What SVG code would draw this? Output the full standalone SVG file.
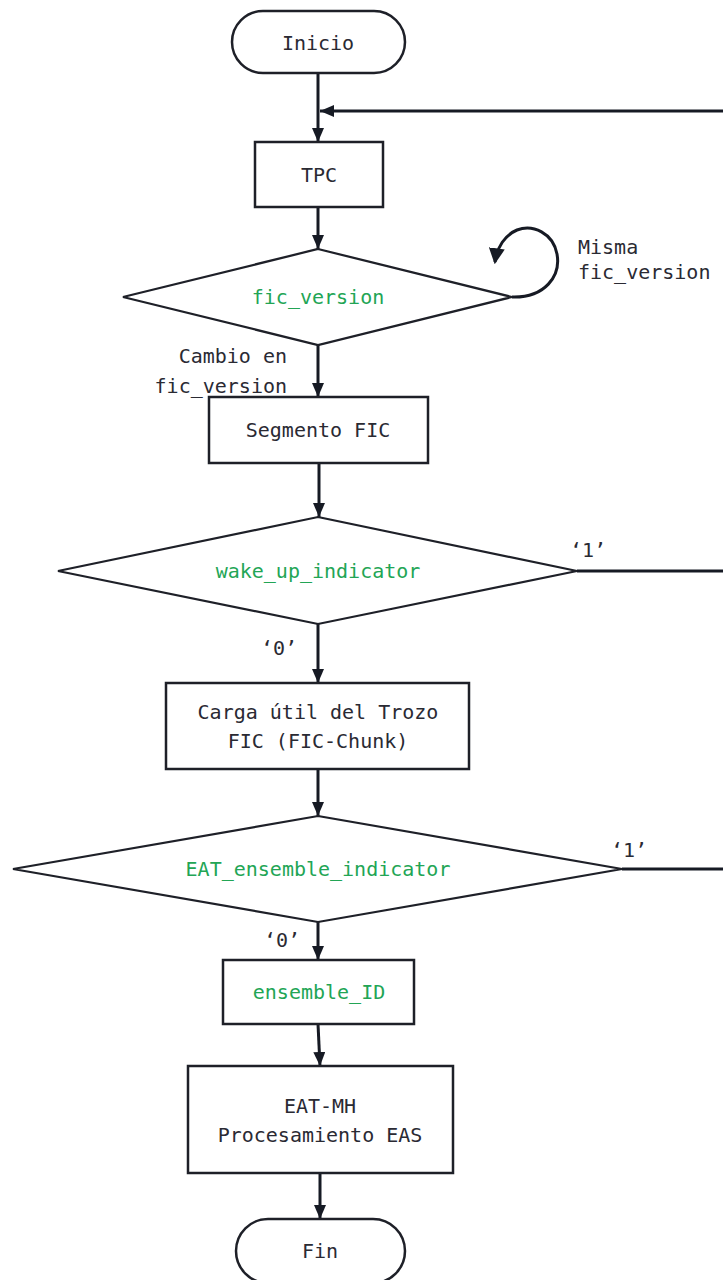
<svg xmlns="http://www.w3.org/2000/svg" width="723" height="1280" viewBox="0 0 723 1280">
<defs>
<marker id="ah" viewBox="0 0 14 12" refX="14" refY="6" markerWidth="14" markerHeight="12" markerUnits="userSpaceOnUse" orient="auto">
<path d="M0,0 L14,6 L0,12 Z" fill="#161a24"/>
</marker>
<marker id="ah2" viewBox="0 0 14 14" refX="12" refY="7" markerWidth="16" markerHeight="16" markerUnits="userSpaceOnUse" orient="auto">
<path d="M0,0 L14,7 L0,14 Z" fill="#161a24"/>
</marker>
</defs>
<style>
.shape{fill:#fff;stroke:#1e2028;stroke-width:2.5}
.dia{fill:#fff;stroke:#1e2028;stroke-width:2.2}
.t{font-family:"DejaVu Sans Mono","Liberation Mono",monospace;font-size:20px;fill:#2a2a33;text-anchor:middle}
.g{fill:#22a555}
.lbl{font-family:"DejaVu Sans Mono","Liberation Mono",monospace;font-size:20px;fill:#2a2a33}
.c{fill:none;stroke:#161a24;stroke-width:3}
.ca{fill:none;stroke:#161a24;stroke-width:3;marker-end:url(#ah)}
</style>
<rect width="723" height="1280" fill="#fff"/>
<g id="connectors">
<path class="ca" d="M318,73 L318,142"/>
<path class="ca" d="M723,111 L320,111"/>
<path class="ca" d="M318,207 L318,249"/>
<path d="M512,297 C545,298 561,276 557,254 C553,233 533,224 517,230 C505,235 497,247 495,262" fill="none" stroke="#161a24" stroke-width="3" marker-end="url(#ah2)"/>
<path class="ca" d="M318,345 L318,397"/>
<path class="ca" d="M319,463 L319,517"/>
<path class="c" d="M577,571 L723,571"/>
<path class="ca" d="M318,624 L318,683"/>
<path class="ca" d="M318,769 L318,816"/>
<path class="c" d="M622,869 L723,869"/>
<path class="ca" d="M318,922 L318,960"/>
<path class="ca" d="M318,1024 L320,1066"/>
<path class="ca" d="M320,1173 L320,1219"/>
</g>
<g id="inicio">
<rect class="shape" x="232" y="11" width="173" height="62" rx="31" ry="31"/>
<text class="t" x="318" y="50">Inicio</text>
</g>
<g id="tpc">
<rect class="shape" x="255" y="142" width="128" height="65"/>
<text class="t" x="319" y="182">TPC</text>
</g>
<g id="fic_version">
<polygon class="dia" points="318,249 512,297 318,345 123,297"/>
<text class="t g" x="318" y="304">fic_version</text>
</g>
<g id="labels">
<text class="lbl" x="578" y="254">Misma</text>
<text class="lbl" x="578" y="279">fic_version</text>
<text class="lbl" x="287" y="363" text-anchor="end">Cambio en</text>
<text class="lbl" x="287" y="393" text-anchor="end">fic_version</text>
<text class="lbl" x="570" y="557">‘1’</text>
<text class="lbl" x="261" y="655">‘0’</text>
<text class="lbl" x="611" y="857">‘1’</text>
<text class="lbl" x="264" y="947">‘0’</text>
</g>
<g id="segmento_fic">
<rect class="shape" x="209" y="397" width="219" height="66"/>
<text class="t" x="318" y="437">Segmento FIC</text>
</g>
<g id="wake_up_indicator">
<polygon class="dia" points="318,517 577,571 318,624 58,571"/>
<text class="t g" x="318" y="578">wake_up_indicator</text>
</g>
<g id="carga">
<rect class="shape" x="166" y="683" width="303" height="86"/>
<text class="t" x="318" y="719">Carga útil del Trozo</text>
<text class="t" x="318" y="748">FIC (FIC-Chunk)</text>
</g>
<g id="eat_ensemble_indicator">
<polygon class="dia" points="318,816 622,869 318,922 13,869"/>
<text class="t g" x="318" y="876">EAT_ensemble_indicator</text>
</g>
<g id="ensemble_id">
<rect class="shape" x="223" y="960" width="191" height="64"/>
<text class="t g" x="319" y="999">ensemble_ID</text>
</g>
<g id="eat_mh">
<rect class="shape" x="188" y="1066" width="265" height="107"/>
<text class="t" x="320" y="1113">EAT-MH</text>
<text class="t" x="320" y="1142">Procesamiento EAS</text>
</g>
<g id="fin">
<rect class="shape" x="236" y="1219" width="169" height="64" rx="32" ry="32"/>
<text class="t" x="320" y="1258">Fin</text>
</g>
</svg>
